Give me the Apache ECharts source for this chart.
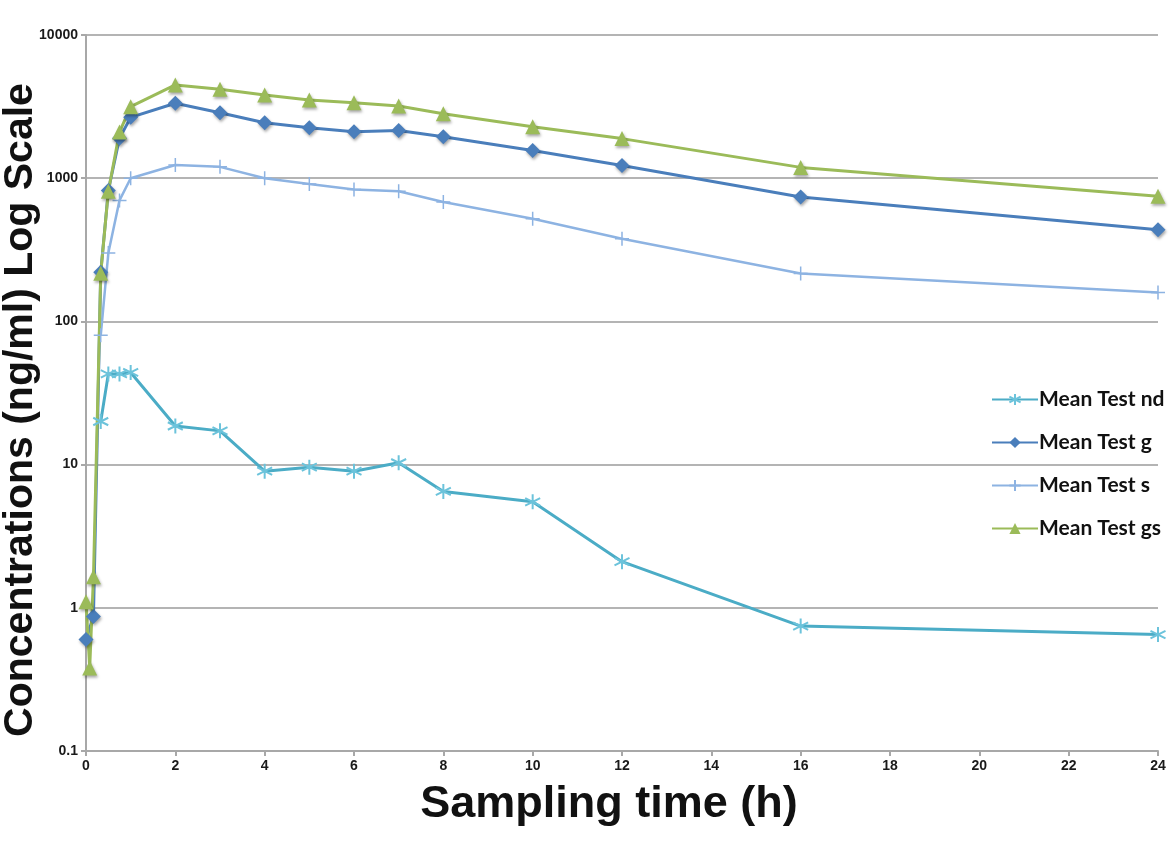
<!DOCTYPE html>
<html>
<head>
<meta charset="utf-8">
<script src="https://cdn.jsdelivr.net/npm/echarts@6/dist/echarts.min.js"></script>
<style>
html,body{margin:0;padding:0;background:#fff;}
#chart{width:1170px;height:850px;}
</style>
</head>
<body>
<div id="chart"></div>
<script>
// Sampling times (h)
const times = [0, 0.083, 0.167, 0.33, 0.5, 0.75, 1, 2, 3, 4, 5, 6, 7, 8, 10, 12, 16, 24];
// Mean concentrations (ng/ml); null = not plotted
const meanTestNd = [null, null, null, 20, 43, 43, 44, 18.6, 17.2, 9.0, 9.6, 9.0, 10.3, 6.5, 5.5, 2.1, 0.745, 0.65];
const meanTestG  = [0.6, null, 0.87, 220, 820, 1900, 2660, 3335, 2865, 2440, 2250, 2110, 2150, 1950, 1560, 1225, 738, 436];
const meanTestS  = [null, null, null, 80, 300, 700, 1000, 1235, 1200, 1000, 912, 835, 810, 683, 521, 378, 216, 159];
const meanTestGs = [1.1, 0.38, 1.65, 217, 810, 2100, 3160, 4480, 4180, 3810, 3515, 3365, 3190, 2820, 2290, 1890, 1190, 748];
const seriesNames = ['Mean Test nd', 'Mean Test g', 'Mean Test s', 'Mean Test gs'];
const xTickLabels = ['0','2','4','6','8','10','12','14','16','18','20','22','24'];
const yTickLabels = ['0.1','1','10','100','1000','10000'];
const xTitle = 'Sampling time (h)';
const yTitle = 'Concentrations (ng/ml) Log Scale';

function pairs(vals) {
  const out = [];
  for (let i = 0; i < times.length; i++) {
    if (vals[i] !== null) out.push([times[i], vals[i]]);
  }
  return out;
}

const shadow = {shadowBlur: 3, shadowColor: 'rgba(0,0,0,0.35)', shadowOffsetX: 1, shadowOffsetY: 2};
const asterisk = 'path://M0,-10 L0,10 M-8.7,-5 L8.7,5 M-8.7,5 L8.7,-5';
const plus = 'path://M0,-10 L0,10 M-10,0 L10,0';

const chart = echarts.init(document.getElementById('chart'));
chart.setOption({
  animation: false,
  backgroundColor: '#fff',
  grid: {left: 86, right: 12, top: 35, bottom: 99, containLabel: false, outerBoundsMode: 'none'},
  graphic: [
    {
      type: 'text', x: 21, y: 410, rotation: Math.PI / 2,
      style: {text: yTitle, fontFamily: 'Liberation Sans', fontWeight: 'bold', fontSize: 41, fill: '#111',
        textAlign: 'center', textVerticalAlign: 'middle'}
    },
    {
      type: 'text', x: 609, y: 805,
      style: {text: xTitle, fontFamily: 'Liberation Sans', fontWeight: 'bold', fontSize: 45, fill: '#111',
        textAlign: 'center', textVerticalAlign: 'middle'}
    }
  ],
  legend: {
    orient: 'vertical',
    left: 986,
    top: 384,
    itemWidth: 46,
    itemHeight: 14,
    itemGap: 22,
    textStyle: {fontFamily: 'Lato', fontWeight: 'bold', fontSize: 21, color: '#111', padding: [0,0,0,-4]},
    data: seriesNames
  },
  xAxis: {
    type: 'value', min: 0, max: 24, interval: 2,
    axisLine: {show: true, lineStyle: {color: '#a8a8a8', width: 2}},
    axisTick: {show: true, length: 5, lineStyle: {color: '#a8a8a8', width: 2}},
    axisLabel: {margin: 8, fontFamily: 'Liberation Sans', fontWeight: 'bold', fontSize: 14, color: '#1a1a1a',
      formatter: function (v) { const i = Math.round(v / 2); return xTickLabels[i] !== undefined ? xTickLabels[i] : ''; }},
    splitLine: {show: false}
  },
  yAxis: {
    type: 'log', logBase: 10, min: 0.1, max: 10000,
    axisLine: {show: true, lineStyle: {color: '#a8a8a8', width: 2}},
    axisTick: {show: true, length: 5, lineStyle: {color: '#a8a8a8', width: 2}},
    axisLabel: {margin: 8, fontFamily: 'Liberation Sans', fontWeight: 'bold', fontSize: 14, color: '#1a1a1a',
      formatter: function (v) { const i = Math.round(Math.log10(v)) + 1; return yTickLabels[i] !== undefined ? yTickLabels[i] : ''; }},
    splitLine: {show: true, lineStyle: {color: '#b4b4b4', width: 2}}
  },
  series: [
    {
      name: seriesNames[0], type: 'line', data: pairs(meanTestNd),
      symbol: asterisk, symbolSize: 15,
      lineStyle: {color: '#4bacc6', width: 3},
      itemStyle: {color: '#6cc3db', borderColor: '#6cc3db', borderWidth: 2}
    },
    {
      name: seriesNames[1], type: 'line', data: pairs(meanTestG),
      symbol: 'diamond', symbolSize: 15,
      lineStyle: {color: '#4a7ebb', width: 3},
      itemStyle: Object.assign({color: '#4a7ebb'}, shadow)
    },
    {
      name: seriesNames[2], type: 'line', data: pairs(meanTestS),
      symbol: plus, symbolSize: 14,
      lineStyle: {color: '#8db3e2', width: 2.5},
      itemStyle: {color: '#8db3e2', borderColor: '#8db3e2', borderWidth: 1.5}
    },
    {
      name: seriesNames[3], type: 'line', data: pairs(meanTestGs),
      symbol: 'triangle', symbolSize: 15,
      lineStyle: {color: '#9bbb59', width: 3},
      itemStyle: Object.assign({color: '#9bbb59'}, shadow)
    }
  ]
});
</script>
</body>
</html>
